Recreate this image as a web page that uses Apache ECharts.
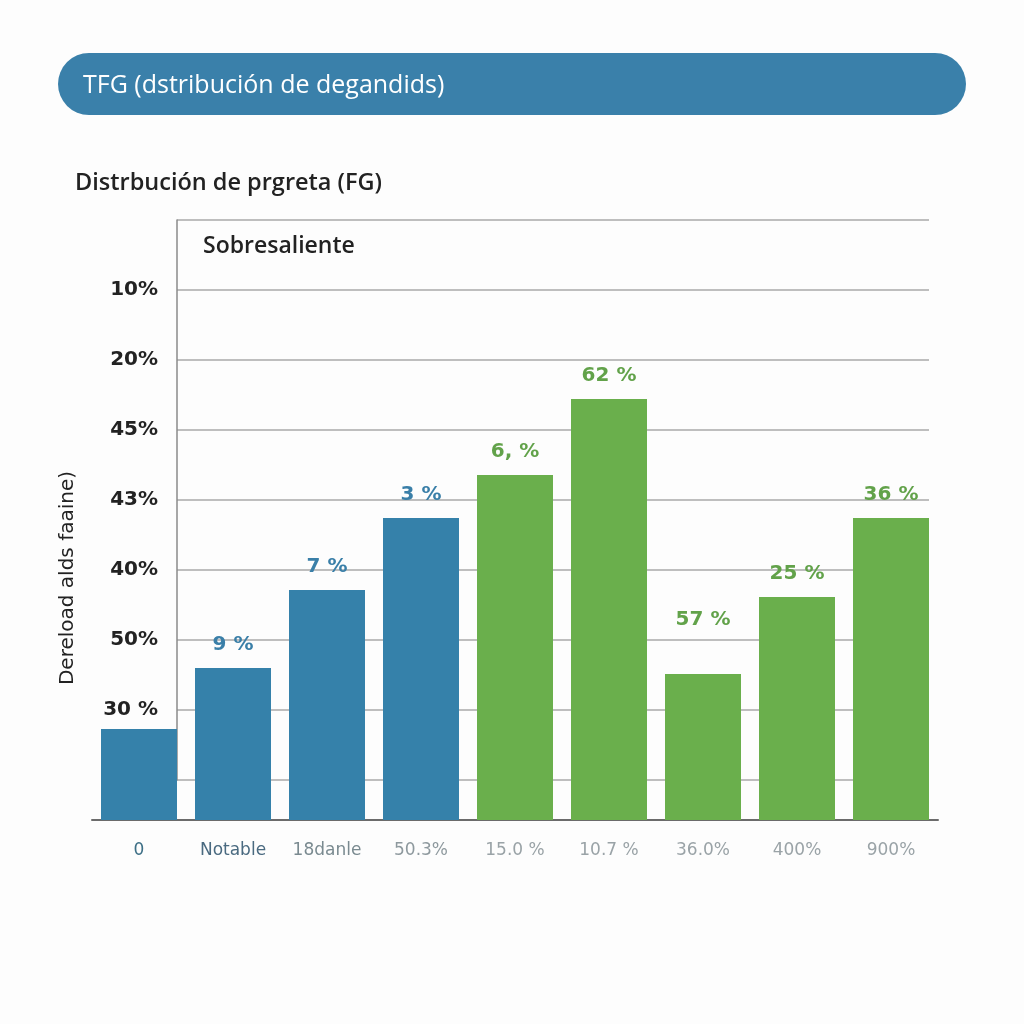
<!DOCTYPE html>
<html>
<head>
<meta charset="utf-8">
<title>TFG</title>
<script src="https://cdn.jsdelivr.net/npm/echarts@6/dist/echarts.min.js"></script>
<style>
    html, body { margin: 0; padding: 0; background: #fdfdfd; }
    #chart { width: 1024px; height: 1024px; }
</style>
</head>
<body>
<div id="chart"></div>
<script>
// categorias del eje x
var categorias = ['0', 'Notable', '18danle', '50.3%', '15.0 %', '10.7 %', '36.0%', '400%', '900%'];
// altura de cada barra (%)
var valores = [9.1, 15.2, 23.0, 30.2, 34.5, 42.1, 14.6, 22.3, 30.2];
// texto encima de cada barra
var etiquetas = ['', '9 %', '7 %', '3 %', '6, %', '62 %', '57 %', '25 %', '36 %'];
// grupo: 0 azul, 1 verde
var grupos = [0, 0, 0, 0, 1, 1, 1, 1, 1];
// etiquetas del eje y (de abajo hacia arriba, una por linea)
var ticksY = ['', '30 %', '50%', '40%', '43%', '45%', '20%', '10%', ''];

var azul = '#3581aa';
var verde = '#6aaf4c';
var colorCat = ['#3d6f86', '#4a6a80', '#7a8a90', '#8e999e', '#9aa3a7', '#9aa3a7', '#9aa3a7', '#9aa3a7', '#9aa3a7'];

var datos = [];
for (var i = 0; i < valores.length; i++) {
    var item = {
        value: valores[i],
        itemStyle: {color: grupos[i] ? verde : azul},
        label: {color: grupos[i] ? '#62a24a' : '#3a7fa8'}
    };
    if (i == 6) item.label.distance = 44; // la etiqueta "57 %" queda mas alta
    datos.push(item);
}

var chart = echarts.init(document.getElementById('chart'));
var option = {
    backgroundColor: '#fdfdfd',
    textStyle: {fontFamily: '"DejaVu Sans", sans-serif'},
    graphic: [
        {
            type: 'rect',
            shape: {x: 58, y: 53, width: 908, height: 62, r: 31},
            style: {fill: '#3a80aa'}
        },
        {
            type: 'text', x: 83, y: 86,
            style: {text: 'TFG (dstribución de degandids)', fill: '#ffffff',
                font: '500 25px "Open Sans", sans-serif', verticalAlign: 'middle'}
        },
        {
            type: 'text', x: 75, y: 183,
            style: {text: 'Distrbución de prgreta (FG)', fill: '#222222',
                font: '600 23.5px "Open Sans", sans-serif', verticalAlign: 'middle'}
        },
        {
            type: 'text', x: 203, y: 246,
            style: {text: 'Sobresaliente', fill: '#222222',
                font: '600 23px "Open Sans", sans-serif', verticalAlign: 'middle'}
        },
        {
            type: 'text', x: 68, y: 578, rotation: Math.PI / 2,
            style: {text: 'Dereload alds faaine)', fill: '#222222',
                font: '20px "DejaVu Sans", sans-serif', align: 'center', verticalAlign: 'middle'}
        }
    ],
    grid: [
        {left: 92, right: 86, top: 220, bottom: 204},
        {left: 177, right: 95, top: 220, bottom: 244}
    ],
    xAxis: [
        {
            type: 'category',
            gridIndex: 0,
            data: categorias,
            axisLine: {lineStyle: {color: '#6b6b6b', width: 2}},
            axisTick: {show: false},
            axisLabel: {
                interval: 0,
                margin: 22,
                fontSize: 17,
                formatter: function (v, idx) { return '{c' + idx + '|' + v + '}'; },
                rich: (function () {
                    var r = {};
                    for (var k = 0; k < colorCat.length; k++) r['c' + k] = {color: colorCat[k], fontSize: 17};
                    return r;
                })()
            }
        },
        {type: 'value', gridIndex: 1, show: false}
    ],
    yAxis: [
        {type: 'value', gridIndex: 0, min: 0, max: 60, show: false},
        {
            type: 'value',
            gridIndex: 1,
            min: 0,
            max: 8,
            interval: 1,
            axisLine: {show: true, lineStyle: {color: '#8a8a8a', width: 1.5}},
            axisTick: {show: false},
            splitLine: {lineStyle: {color: '#a9a9a9', width: 1.5}},
            axisLabel: {
                margin: 19,
                color: '#222222',
                fontSize: 20,
                fontWeight: 'bold',
                formatter: function (v) { return ticksY[v]; }
            }
        }
    ],
    series: [
        {
            type: 'bar',
            xAxisIndex: 0,
            yAxisIndex: 0,
            barWidth: 76,
            data: datos,
            label: {
                show: true,
                position: 'top',
                distance: 13,
                fontSize: 20,
                fontWeight: 'bold',
                formatter: function (p) { return etiquetas[p.dataIndex]; }
            }
        }
    ]
};
chart.setOption(option);
</script>
</body>
</html>
